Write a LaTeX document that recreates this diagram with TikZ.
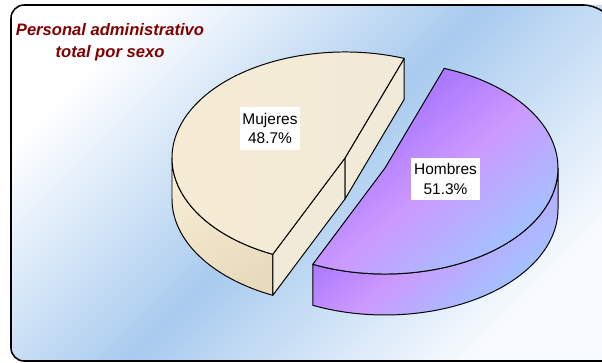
\documentclass[tikz,border=0pt]{standalone}
\usepackage{fontspec}
\setmainfont{Liberation Sans}
\definecolor{bandblue}{HTML}{A9CBEF}
\definecolor{paleend}{HTML}{F7FAFE}
\definecolor{titlered}{HTML}{800000}
\definecolor{cream}{HTML}{F7ECD4}
\definecolor{creamlight}{HTML}{F1EAD8}
\definecolor{creamdark}{HTML}{E8DABC}
\definecolor{violetdark}{HTML}{9966FF}
\definecolor{violetpink}{HTML}{CC99FF}
\definecolor{violetblue}{HTML}{99CCFF}
\begin{document}
\begin{tikzpicture}[x=0.025cm,y=0.025cm,
    outline/.style={draw=black,line width=0.7pt,line join=round},
    slicelabel/.style={fill=white,align=center,inner xsep=2pt,inner ysep=4pt,
      font=\fontsize{11}{14}\selectfont}]

  \useasboundingbox (0,0) rectangle (602,362);

  \path[top color=white,bottom color=paleend,middle color=bandblue,shading angle=45]
    (602,357) [rounded corners=0.33cm] -- (11,357) -- (11,1) [sharp corners] -- (602,1) -- cycle;
  \draw[line width=1.1pt,rounded corners=0.33cm]
    (603,1) -- (11,1) -- (11,357) -- (597,357) [sharp corners] -- (602,352);

  \node[text=titlered,align=center,font=\fontsize{11.8}{15.5}\selectfont\bfseries\itshape]
    (title) at (110,320) {Personal administrativo\\total por sexo};

  \coordinate (hc)  at (385,194);
  \coordinate (wc)  at (345,204);
  \coordinate (wcb) at (345,163);

  % Hombres
  \path[outline,top color=violetdark,bottom color=violetblue,middle color=violetpink,shading angle=40]
    ([shift={(245.32:173 and 106)}]hc) arc[start angle=245.32,end angle=360,x radius=173,y radius=106]
    -- ++(0,-41) arc[start angle=360,end angle=245.32,x radius=173,y radius=106] -- cycle;
  \path[outline,top color=violetdark,bottom color=violetblue,middle color=violetpink,shading angle=40]
    (hc) -- ++(245.32:173 and 106) arc[start angle=245.32,end angle=430,x radius=173,y radius=106] -- cycle;

  % Mujeres
  \path[outline,top color=cream,bottom color=creamdark,shading angle=30]
    ([shift={(180:173 and 106)}]wc) arc[start angle=180,end angle=245.32,x radius=173,y radius=106]
    -- ++(0,-41) arc[start angle=245.32,end angle=180,x radius=173,y radius=106] -- cycle;
  \path[outline,fill=creamlight]
    (wc) -- ++(245.32:173 and 106) -- ++(0,-41) -- (wcb) -- cycle;
  \path[outline,fill=creamlight]
    (wc) -- ++(70:173 and 106) -- ++(0,-41) -- (wcb) -- cycle;
  \path[outline,left color=cream,right color=creamlight]
    (wc) -- ++(70:173 and 106) arc[start angle=70,end angle=245.32,x radius=173,y radius=106] -- cycle;

  \node[slicelabel] (mujeres) at (270,233.5) {Mujeres\\48.7\%};
  \node[slicelabel] (hombres) at (445.5,183) {Hombres\\51.3\%};

\end{tikzpicture}
\end{document}
